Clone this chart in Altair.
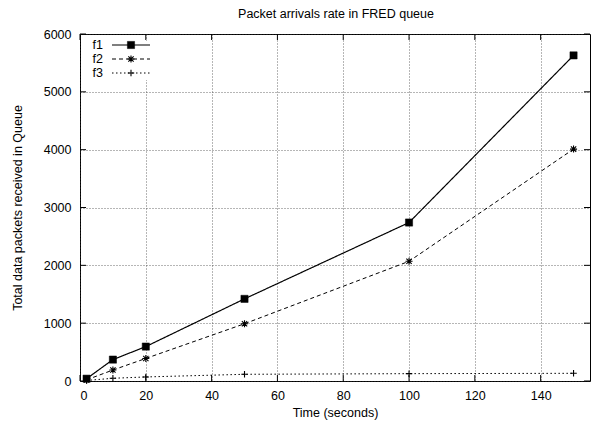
import altair as alt
import pandas as pd

# Measured packet counts per flow at each sampling time
time_s = [2, 10, 20, 50, 100, 150]
f1_packets = [40, 370, 595, 1420, 2740, 5630]
f2_packets = [20, 190, 390, 990, 2070, 4010]
f3_packets = [10, 47, 70, 116, 127, 133]
series_names = ["f1", "f2", "f3"]

x_ticks = [0, 20, 40, 60, 80, 100, 120, 140]
y_ticks = [0, 1000, 2000, 3000, 4000, 5000, 6000]

chart_title = "Packet arrivals rate in FRED queue"

W, H = 510, 347
FONT = "Liberation Sans"
FS = 12.5
TICK = 6

ASTERISK = "M-1,0L1,0M0,-1L0,1M-0.75,-0.75L0.75,0.75M-0.75,0.75L0.75,-0.75"
PLUS = "M-1,0L1,0M0,-1L0,1"

styles = {
    "f1": dict(dash=[1, 0], width=1.2, shape="square", filled=True, size=52),
    "f2": dict(dash=[4, 3], width=1.0, shape=ASTERISK, filled=False, size=50),
    "f3": dict(dash=[1.5, 2.5], width=1.0, shape=PLUS, filled=False, size=42),
}

values = {"f1": f1_packets, "f2": f2_packets, "f3": f3_packets}

x_scale = alt.Scale(domain=[0, 155], nice=False, zero=False)
y_scale = alt.Scale(domain=[0, 6000], nice=False)

x_axis = alt.Axis(
    values=x_ticks, grid=True, ticks=False, domain=False, format="d",
    labelPadding=8, title="Time (seconds)", titlePadding=5,
)
y_axis = alt.Axis(
    values=y_ticks, grid=True, ticks=False, domain=False, format="d",
    labelPadding=9, title="Total data packets received in Queue", titlePadding=19,
)

layers = []

# base layer carrying axes and the dotted grid
axis_df = pd.DataFrame({"t": [0], "v": [0]})
layers.append(
    alt.Chart(axis_df).mark_point(opacity=0).encode(
        x=alt.X("t:Q", scale=x_scale, axis=x_axis),
        y=alt.Y("v:Q", scale=y_scale, axis=y_axis),
    )
)

# inward ticks on all four sides of the frame
xt = pd.DataFrame({"t": x_ticks})
yt = pd.DataFrame({"v": y_ticks})
for y0, y1 in [(H, H - TICK), (0, TICK)]:
    layers.append(
        alt.Chart(xt).mark_rule(color="black", strokeWidth=1).encode(
            x=alt.X("t:Q", scale=x_scale), y=alt.value(y0), y2=alt.value(y1)
        )
    )
for x0, x1 in [(0, TICK), (W, W - TICK)]:
    layers.append(
        alt.Chart(yt).mark_rule(color="black", strokeWidth=1).encode(
            y=alt.Y("v:Q", scale=y_scale), x=alt.value(x0), x2=alt.value(x1)
        )
    )

# data series
for name in series_names:
    st = styles[name]
    df = pd.DataFrame({"t": time_s, "v": values[name]})
    layers.append(
        alt.Chart(df).mark_line(
            color="black", strokeWidth=st["width"], strokeDash=st["dash"]
        ).encode(x=alt.X("t:Q", scale=x_scale), y=alt.Y("v:Q", scale=y_scale))
    )
    pt_kwargs = dict(shape=st["shape"], size=st["size"], opacity=1)
    if st["filled"]:
        pt_kwargs.update(filled=True, fill="black", stroke="black", strokeWidth=0.5)
    else:
        pt_kwargs.update(filled=False, stroke="black", strokeWidth=1.1)
    layers.append(
        alt.Chart(df).mark_point(**pt_kwargs).encode(
            x=alt.X("t:Q", scale=x_scale), y=alt.Y("v:Q", scale=y_scale)
        )
    )

# key in the top-left corner with an opaque background
key_df = pd.DataFrame({"series": ["key"]})
layers.append(
    alt.Chart(key_df).mark_rect(fill="white").encode(
        x=alt.value(3), x2=alt.value(76), y=alt.value(TICK + 1), y2=alt.value(46)
    )
)
for i, name in enumerate(series_names):
    st = styles[name]
    row_y = 11 + 14 * i
    one = pd.DataFrame({"series": [name]})
    layers.append(
        alt.Chart(one).mark_text(
            align="right", baseline="middle", font=FONT, fontSize=FS, color="black"
        ).encode(text="series:N", x=alt.value(23), y=alt.value(row_y))
    )
    layers.append(
        alt.Chart(one).mark_rule(
            color="black", strokeWidth=st["width"], strokeDash=st["dash"]
        ).encode(x=alt.value(32), x2=alt.value(70), y=alt.value(row_y))
    )
    pt_kwargs = dict(shape=st["shape"], size=st["size"], opacity=1)
    if st["filled"]:
        pt_kwargs.update(filled=True, fill="black", stroke="black", strokeWidth=0.5)
    else:
        pt_kwargs.update(filled=False, stroke="black", strokeWidth=1.1)
    layers.append(
        alt.Chart(one).mark_point(**pt_kwargs).encode(
            x=alt.value(51), y=alt.value(row_y)
        )
    )

# chart heading, centred above the frame
title_df = pd.DataFrame({"label": [chart_title]})
layers.append(
    alt.Chart(title_df).mark_text(
        align="center", baseline="alphabetic", font=FONT, fontSize=FS, color="black"
    ).encode(text="label:N", x=alt.value(W / 2 + 1), y=alt.value(-16))
)

chart = (
    alt.layer(*layers)
    .properties(
        width=W,
        height=H,
        autosize=alt.AutoSizeParams(type="none"),
        padding={"left": 80, "top": 34, "right": 1, "bottom": 43},
        background="white",
    )
    .configure_view(stroke="black", strokeWidth=1)
    .configure_axis(
        labelFont=FONT, labelFontSize=FS, labelColor="black",
        titleFont=FONT, titleFontSize=FS, titleFontWeight="normal", titleColor="black",
        gridColor="#333333", gridDash=[1, 2], gridWidth=0.8, gridOpacity=0.9,
    )
)

chart.save("out.html", embed_options={"renderer": "svg", "actions": False})
